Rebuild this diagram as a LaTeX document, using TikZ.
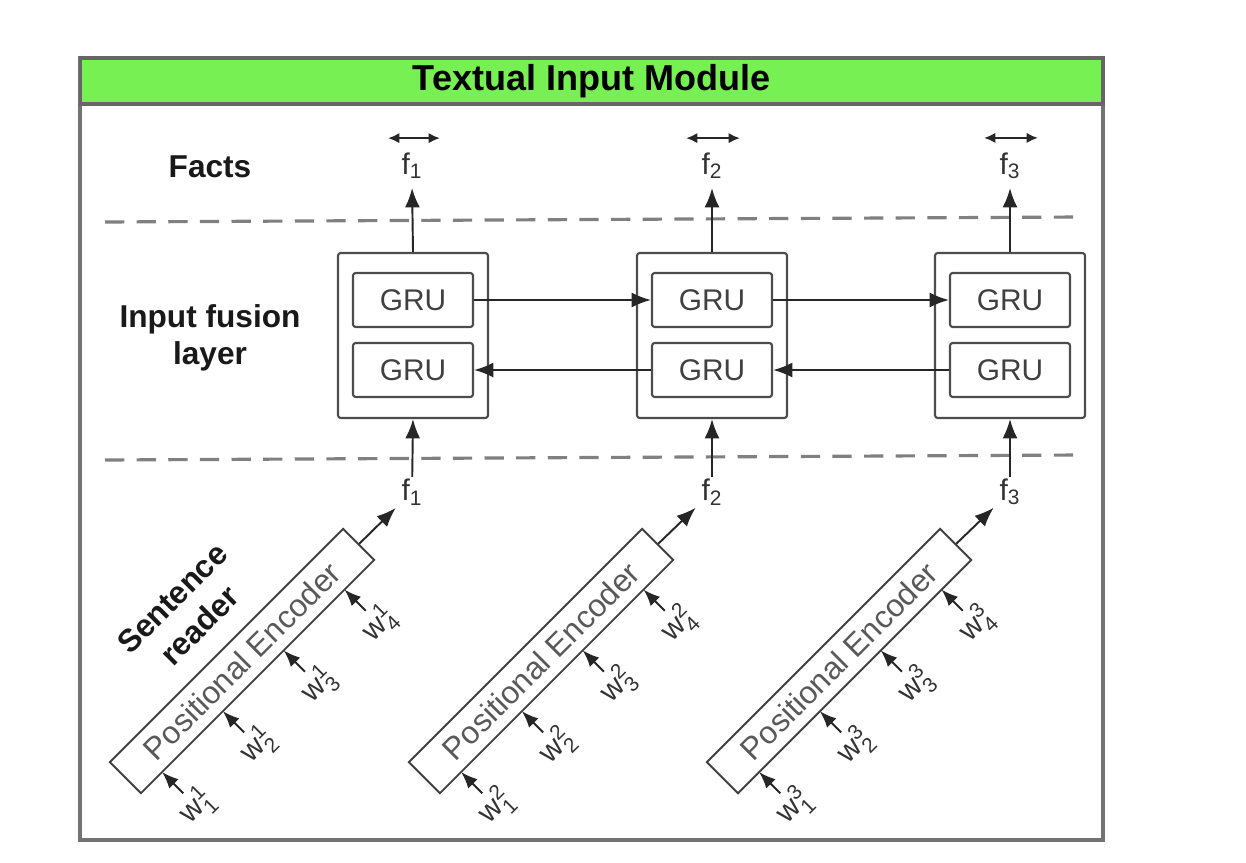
\documentclass[tikz,border=0pt]{standalone}
\usepackage{amsmath}
\usepackage{fontspec}
\setmainfont{Liberation Sans}
\usetikzlibrary{arrows.meta}

\definecolor{headgreen}{RGB}{118,240,82}
\tikzset{
  header/.style={draw=black!60, line width=1.8pt, fill=headgreen, minimum width=20.46cm, minimum height=0.92cm, inner sep=0pt, font=\fontsize{20.5}{24}\selectfont\bfseries},
  fuse/.style={draw=black!70, line width=1.2pt, rounded corners=1.5pt, minimum width=3cm, minimum height=3.3cm},
  gru/.style={draw=black!70, line width=1.2pt, rounded corners=1.5pt, minimum width=2.4cm, minimum height=1.08cm, text=black!75, font=\fontsize{17}{20}\selectfont},
  encbox/.style={draw=black!75, line width=1.1pt, minimum width=6.6cm, minimum height=0.88cm, inner sep=2pt, text=black!65, font=\fontsize{18}{20}\selectfont},
  side/.style={align=center, font=\fontsize{18}{21}\selectfont\bfseries, text=black!90},
  flab/.style={inner sep=1pt, text=black!80, font=\fontsize{17}{20}\selectfont},
  wlab/.style={anchor=north, inner sep=1pt, text=black!80, font=\fontsize{17}{20}\selectfont},
  arr/.style={draw=black!85, line width=1.1pt, -{Latex[length=11pt,width=8.5pt]}},
  warr/.style={draw=black!85, line width=1.1pt, -{Latex[length=9.5pt,width=7.5pt]}},
  dbl/.style={draw=black!85, line width=1.4pt, {Latex[length=6.5pt,width=6pt]}-{Latex[length=6.5pt,width=6pt]}},
  sep/.style={draw=black!50, line width=1.8pt, dash pattern=on 11pt off 7pt},
}

\begin{document}
\begin{tikzpicture}[x=0.02cm, y=-0.02cm]
        \useasboundingbox (0,0) rectangle (1246,862);

        % frame and title
        \draw[draw=black!55, line width=1.8pt] (80,58) rectangle (1103,840);
        \node[header] (title) at (591.5,81) {Textual Input Module};

        \draw[sep] (105,222) -- (1080,217);
        \draw[sep] (105,460) -- (1080,455);

        \node[side] (facts) at (210,167) {Facts};
        \node[side] (fusion) at (210,338) {Input fusion\\layer};
        \node[side, rotate=45, font=\fontsize{18}{22}\selectfont\bfseries] (reader) at (186,612) {Sentence\\reader};

        % input fusion layer
        \node[fuse] (fuse1) at (413,335.5) {};
        \node[fuse] (fuse2) at (712,335.5) {};
        \node[fuse] (fuse3) at (1010,335.5) {};
        \node[gru] (gf1) at (413,300) {GRU};
        \node[gru] (gb1) at (413,370) {GRU};
        \node[gru] (gf2) at (712,300) {GRU};
        \node[gru] (gb2) at (712,370) {GRU};
        \node[gru] (gf3) at (1010,300) {GRU};
        \node[gru] (gb3) at (1010,370) {GRU};

        \draw[arr] (gf1) -- (gf2);
        \draw[arr] (gf2) -- (gf3);
        \draw[arr] (gb3) -- (gb2);
        \draw[arr] (gb2) -- (gb1);

        % facts
        \node[flab, anchor=south] (fout1) at (412,181) {f$_{\text{1}}$};
        \node[flab, anchor=south] (fout2) at (712,181) {f$_{\text{2}}$};
        \node[flab, anchor=south] (fout3) at (1010,181) {f$_{\text{3}}$};
        \draw[arr, shorten >=4pt] (fuse1.north) -- (fout1.south);
        \draw[arr, shorten >=4pt] (fuse2.north) -- (fout2.south);
        \draw[arr, shorten >=4pt] (fuse3.north) -- (fout3.south);
        \draw[dbl] ([xshift=-0.48cm, yshift=0.25cm]fout1.north) -- ([xshift=0.56cm, yshift=0.25cm]fout1.north);
        \draw[dbl] ([xshift=-0.52cm, yshift=0.25cm]fout2.north) -- ([xshift=0.56cm, yshift=0.25cm]fout2.north);
        \draw[dbl] ([xshift=-0.52cm, yshift=0.25cm]fout3.north) -- ([xshift=0.56cm, yshift=0.25cm]fout3.north);

        % sentence readers
        \node[flab] (fin1) at (412,492) {f$_{\text{1}}$};
        \node[flab] (fin2) at (712,492) {f$_{\text{2}}$};
        \node[flab] (fin3) at (1010,492) {f$_{\text{3}}$};
        \draw[arr] (fin1) -- (fuse1.south);
        \draw[arr] (fin2) -- (fuse2.south);
        \draw[arr] (fin3) -- (fuse3.south);

        \begin{scope}[shift={(242,661)}, rotate=45, transform shape]
            \node[encbox] (enc1) at (0,0) {Positional Encoder};
            \node[wlab] (w11) at (-135,52) {w$^{\text{1}}_{\text{1}}$};
            \node[wlab] (w12) at (-49,52) {w$^{\text{1}}_{\text{2}}$};
            \node[wlab] (w13) at (37,52) {w$^{\text{1}}_{\text{3}}$};
            \node[wlab] (w14) at (123,52) {w$^{\text{1}}_{\text{4}}$};
            \coordinate (t11) at (-135,22);
            \coordinate (t12) at (-49,22);
            \coordinate (t13) at (37,22);
            \coordinate (t14) at (123,22);
        \end{scope}
        \begin{scope}[shift={(541,661)}, rotate=45, transform shape]
            \node[encbox] (enc2) at (0,0) {Positional Encoder};
            \node[wlab] (w21) at (-135,52) {w$^{\text{2}}_{\text{1}}$};
            \node[wlab] (w22) at (-49,52) {w$^{\text{2}}_{\text{2}}$};
            \node[wlab] (w23) at (37,52) {w$^{\text{2}}_{\text{3}}$};
            \node[wlab] (w24) at (123,52) {w$^{\text{2}}_{\text{4}}$};
            \coordinate (t21) at (-135,22);
            \coordinate (t22) at (-49,22);
            \coordinate (t23) at (37,22);
            \coordinate (t24) at (123,22);
        \end{scope}
        \begin{scope}[shift={(839,661)}, rotate=45, transform shape]
            \node[encbox] (enc3) at (0,0) {Positional Encoder};
            \node[wlab] (w31) at (-135,52) {w$^{\text{3}}_{\text{1}}$};
            \node[wlab] (w32) at (-49,52) {w$^{\text{3}}_{\text{2}}$};
            \node[wlab] (w33) at (37,52) {w$^{\text{3}}_{\text{3}}$};
            \node[wlab] (w34) at (123,52) {w$^{\text{3}}_{\text{4}}$};
            \coordinate (t31) at (-135,22);
            \coordinate (t32) at (-49,22);
            \coordinate (t33) at (37,22);
            \coordinate (t34) at (123,22);
        \end{scope}

        \draw[arr, shorten >=3pt] (enc1.east) -- (fin1);
        \draw[arr, shorten >=3pt] (enc2.east) -- (fin2);
        \draw[arr, shorten >=3pt] (enc3.east) -- (fin3);

        \draw[warr] (w11.north) -- (t11);
        \draw[warr] (w12.north) -- (t12);
        \draw[warr] (w13.north) -- (t13);
        \draw[warr] (w14.north) -- (t14);
        \draw[warr] (w21.north) -- (t21);
        \draw[warr] (w22.north) -- (t22);
        \draw[warr] (w23.north) -- (t23);
        \draw[warr] (w24.north) -- (t24);
        \draw[warr] (w31.north) -- (t31);
        \draw[warr] (w32.north) -- (t32);
        \draw[warr] (w33.north) -- (t33);
        \draw[warr] (w34.north) -- (t34);
    \end{tikzpicture}
\end{document}
